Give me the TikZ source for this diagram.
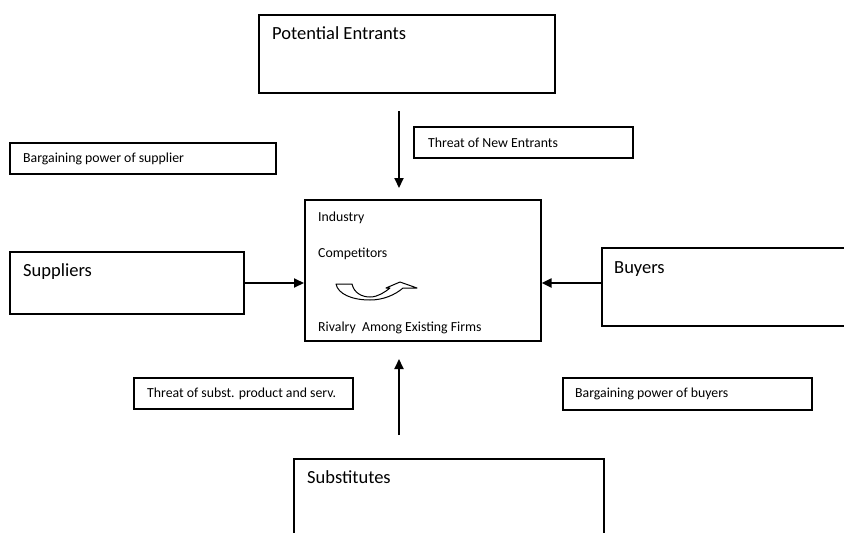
\documentclass[tikz,border=0pt]{standalone}
\usepackage{fontspec}
\setmainfont{Carlito}
\usetikzlibrary{arrows.meta}

\begin{document}
\begin{tikzpicture}[x=1pt, y=-1pt,
  forcebox/.style={draw, line width=1.6pt, rectangle, inner sep=0pt, anchor=north west},
  bigtext/.style={anchor=base west, inner sep=0pt, font=\fontsize{18.5}{22}\selectfont},
  smalltext/.style={anchor=base west, inner sep=0pt, font=\fontsize{13.8}{16}\selectfont},
  force/.style={line width=2pt, -{Triangle[length=10pt,width=9pt]}}]
    \useasboundingbox (0,0) rectangle (844,533);
    % boxes
    \node[forcebox, minimum width=296pt, minimum height=78pt] (entrants) at (258,14) {};
    \node[forcebox, minimum width=219pt, minimum height=31pt] (newthreat) at (413,126) {};
    \node[forcebox, minimum width=266pt, minimum height=31pt] (supplierpower) at (9,142) {};
    \node[forcebox, minimum width=236pt, minimum height=141pt] (industry) at (304,199) {};
    \node[forcebox, minimum width=234pt, minimum height=62pt] (suppliers) at (9,251) {};
    \node[forcebox, minimum width=260pt, minimum height=78pt] (buyers) at (601,247) {};
    \node[forcebox, minimum width=219pt, minimum height=31pt] (substthreat) at (133,377) {};
    \node[forcebox, minimum width=249pt, minimum height=32pt] (buyerpower) at (562,377) {};
    \node[forcebox, minimum width=310pt, minimum height=90pt] (substitutes) at (293,458) {};
    % texts
    \node[bigtext] (entrantstxt) at (272,39) {Potential Entrants};
    \node[smalltext] (newthreattxt) at (428,147) {Threat of New Entrants};
    \node[smalltext] (supplierpowertxt) at (23,162) {Bargaining power of supplier};
    \node[smalltext] (industrytxt) at (318,221) {Industry};
    \node[smalltext] (competitorstxt) at (318,257) {Competitors};
    \node[smalltext] (rivalrytxt) at (318,331) {Rivalry\ \ Among Existing Firms};
    \node[bigtext] (supplierstxt) at (23,276) {Suppliers};
    \node[bigtext] (buyerstxt) at (614,273) {Buyers};
    \node[smalltext] (substthreattxt) at (147,397) {Threat of subst. product and serv.};
    \node[smalltext] (buyerpowertxt) at (575,397) {Bargaining power of buyers};
    \node[bigtext] (substitutestxt) at (307,483) {Substitutes};
    % arrows
    \coordinate (entrantsout) at (399,111);
    \coordinate (entrantsin) at (399,188);
    \coordinate (substout) at (399,435);
    \coordinate (substin) at (399,359);
    \draw[force] (entrantsout) -- (entrantsin);
    \draw[force] (substout) -- (substin);
    \draw[force] (suppliers.east |- 0,283) -- (industry.west |- 0,283);
    \draw[force] (buyers.west |- 0,283) -- (industry.east |- 0,283);
    % rivalry symbol
    \draw[line width=1pt, line join=round] (336,284) -- (352,284)
        .. controls (354,293) and (362,297) .. (370,297)
        .. controls (378,297) and (385,292) .. (390,288) -- (386,288) -- (400,282) -- (417,288) -- (403,288)
        .. controls (395,295) and (383,300) .. (370,300)
        .. controls (352,300) and (338,294) .. (336,284) -- cycle;
\end{tikzpicture}
\end{document}
